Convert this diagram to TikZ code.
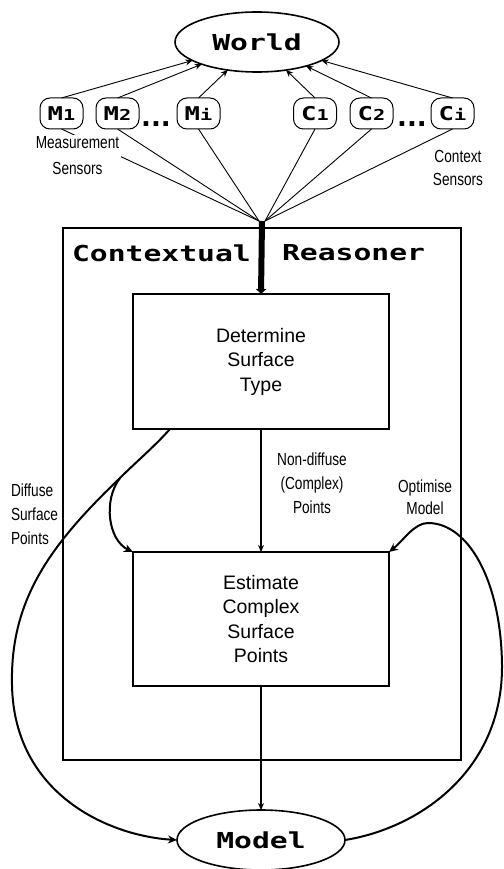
\documentclass[tikz,border=0pt]{standalone}
\usepackage{fontspec}
\setmainfont{Liberation Sans}
\newfontfamily\monob[FakeStretch=1.35]{DejaVu Sans Mono}
\newfontfamily\narrowf[FakeStretch=0.78]{Liberation Sans}
\newfontfamily\dotsf{DejaVu Sans}
\usetikzlibrary{arrows.meta,shapes.geometric}
\newcommand\snsub[1]{{\fontsize{15}{15}\selectfont #1}}
\begin{document}
\begin{tikzpicture}[x=1pt,y=-1pt,
  every node/.style={inner sep=0pt, outer sep=0pt},
  bigtitle/.style={font=\monob\bfseries\fontsize{22}{22}\selectfont},
  ovalnode/.style={ellipse, draw, line width=1.6pt, minimum width=164pt, minimum height=60pt, bigtitle},
  pill/.style={draw, rounded corners=10pt, line width=1pt, minimum width=43pt, minimum height=31pt,
    font=\monob\bfseries\fontsize{19}{19}\selectfont},
  procbox/.style={draw, line width=1.3pt, minimum width=256pt, minimum height=135pt, align=center,
    font=\fontsize{19.5}{24.5}\selectfont},
  smalltxt/.style={align=center, font=\narrowf\fontsize{17.5}{24}\selectfont},
  sline/.style={line width=0.9pt},
  mline/.style={line width=1.4pt},
  arr/.style={-{Stealth[length=7pt,width=6pt]}},
  curvearr/.style={line width=2pt, -{Stealth[length=9pt,width=8pt]}},
  dotstyle/.style={font=\dotsf\bfseries\fontsize{26}{26}\selectfont}
]
\useasboundingbox (0,0) rectangle (503,869);

% outer ovals
\node[ovalnode] (World) at (257,42) {World};
\node[ovalnode, minimum width=168pt] (Model) at (261,840) {Model};

% sensors
\node[pill] (M1) at (61.5,113.5) {M\snsub{1}};
\node[pill] (M2) at (117.5,113.5) {M\snsub{2}};
\node[pill] (Mi) at (198.5,113.5) {M\snsub{i}};
\node[pill] (C1) at (315,113.5) {C\snsub{1}};
\node[pill] (C2) at (371.5,113.5) {C\snsub{2}};
\node[pill] (Ci) at (452.5,113.5) {C\snsub{i}};
\node[dotstyle] (dotsM) at (156,124) {...};
\node[dotstyle] (dotsC) at (412,124) {...};

% container
\node[draw, line width=1.3pt, minimum width=398pt, minimum height=532pt] (CR) at (262,494) {};
\node[bigtitle, anchor=west] (t1) at (72,253) {Contextual};
\node[bigtitle, anchor=west] (t2) at (282,253) {Reasoner};

% process boxes
\node[procbox] (Det) at (261,361.5) {Determine\\Surface\\Type};
\node[procbox, minimum height=134pt] (Est) at (261,619) {Estimate\\Complex\\Surface\\Points};

% hubs
\coordinate (hubL) at (259,221);
\coordinate (hubR) at (265,221);
\coordinate (hub) at (262,221);
\coordinate (br) at (120,478);

% sensor -> world
\foreach \s in {M1,M2,Mi,C1,C2,Ci} \draw[sline, arr] (\s.north) -- (World);
% sensor -> hub
\foreach \s in {M1,M2,Mi} \draw[sline] (\s.south) -- (hubL);
\foreach \s in {C1,C2,Ci} \draw[sline] (\s.south) -- (hubR);

% labels
\node[smalltxt, fill=white, inner sep=2pt, font=\narrowf\fontsize{17.5}{26}\selectfont] (meas) at (77.5,156) {Measurement\\Sensors};
\node[smalltxt, font=\narrowf\fontsize{17.5}{23}\selectfont] (ctx) at (458,168) {Context\\Sensors};
\node[smalltxt] (nd) at (312,483) {Non-diffuse\\(Complex)\\Points};
\node[smalltxt, align=left, anchor=west] (diff) at (11,514) {Diffuse\\Surface\\Points};
\node[smalltxt, font=\narrowf\fontsize{17.5}{22}\selectfont] (opt) at (425,497) {Optimise\\Model};

% main flow
\draw[line width=6pt, -{Triangle[length=5pt,width=10pt]}] (hub) -- (Det.north);
\draw[mline, arr] (Det.south) -- (Est.north);
\draw[mline, arr] (Est.south) -- (Model.north);

% curves
\draw[curvearr] ([xshift=37pt]Det.south west) .. controls (155,446) and (136,462) .. (br)
  .. controls (50,545) and (10,600) .. (12,685)
  .. controls (14,795) and (110,836) .. (Model.west);
\draw[curvearr] (br) .. controls (103,500) and (108,540) .. (Est.north west);
\draw[curvearr] (Model.east) .. controls (420,828) and (503,770) .. (502,665)
  .. controls (501,580) and (468,523) .. (428,523)
  .. controls (414,523) and (403,541) .. (Est.north east);
\end{tikzpicture}
\end{document}
